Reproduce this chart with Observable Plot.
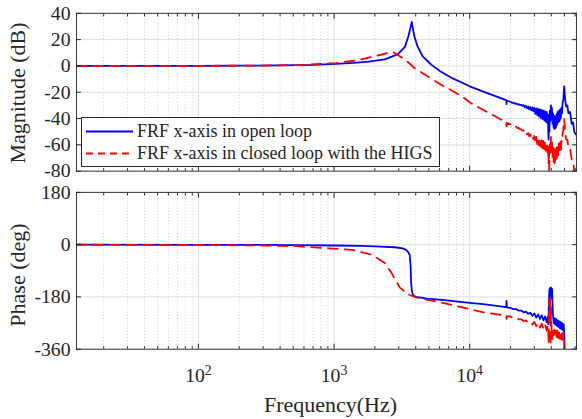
<!DOCTYPE html>
<html><head><meta charset="utf-8">
<script src="https://cdn.jsdelivr.net/npm/d3@7"></script>
<script src="https://cdn.jsdelivr.net/npm/@observablehq/plot@0.6"></script>
<style>
html,body{margin:0;padding:0;background:#fff;overflow:hidden;}
#wrap{position:relative;width:582px;height:419px;overflow:hidden;font-family:"Liberation Serif","Times New Roman",serif;color:#262626;}
#wrap svg{display:block;}
.lab{position:absolute;font-size:22px;line-height:22px;white-space:nowrap;}
.rot{transform:translate(-50%,-50%) rotate(-90deg);}
#legend{position:absolute;left:81px;top:117px;width:357px;height:48px;border:1px solid #262626;background:#fff;}
.lrow{position:absolute;left:0;height:21px;line-height:21px;font-size:18px;white-space:nowrap;}
.lrow svg{position:absolute;left:4px;top:0;}
.lrow span{position:absolute;left:55px;top:0;}
</style></head><body><div id="wrap"></div>
<script>
// ---------- data ----------
const seriesNames = ["FRF x-axis in open loop", "FRF x-axis in closed loop with the HIGS"];
const seriesColors = ["#0000ff", "#ff0000"];
const magTicks = [-80, -60, -40, -20, 0, 20, 40];
const phaseTicks = [-360, -180, 0, 180];
const decadeTicks = [100, 1000, 10000];
const minorTicks = [20,30,40,50,60,70,80,90,200,300,400,500,600,700,800,900,2000,3000,4000,5000,6000,7000,8000,9000,20000,30000,40000,50000,60000];

const openMagF = [12.6,50,100,200,400,700,1025,1400,1800,2370,2960,3330,3520,3670,3740,3850,3920,4140,4520,4800,5200,6100,7500,10000,12600,15500,18600,18700,18800,
  20000,20500,21000,21500,22000,22500,23000,23500,24000,24500,25000,25500,26000,26500,27000,27500,28000,28500,29000,29500,30000,30500,31000,31500,32000,32500,33000,33500,34000,34500,35000,35500,36000,36500,37000,37500,37800,38000,38200,38400,38700,39000,39300,39700,40000,40400,40800,41200,41600,42000,42400,42800,43200,43600,44000,44500,45000,45500,46000,46500,47000,47500,48000,48500,49000,49500,49800,50200,50800,51500,52500,53500,55000,56500,57900,59000,60500];
const openMagDb = [0,0,0.05,0.15,0.35,0.8,1.5,2.3,3.3,5,9,14.5,22,29.5,33.5,26,22,14.5,7,4.5,1,-4.3,-9.5,-15.5,-19.5,-23,-26,-29,-26.3,
  -27.3,-28.1,-27.9,-28.7,-28.5,-29.3,-29,-29.8,-29.5,-30.3,-29.8,-31.5,-30.3,-32.3,-30.8,-33,-31.2,-33.8,-31.6,-34.5,-31.8,-36.5,-32.2,-37.5,-32.6,-38.5,-33,-39.5,-33.5,-40.5,-34,-41.5,-34.5,-42.5,-35,-44,
  -37,-52,-56,-40,-50,-34,-42,-30,-40,-32,-44,-36,-47,-38,-48,-39,-47,-37,-45,-35,-43,-34,-42,-33,-40,-32,-36,-28,-26,-19,-15.5,-21,-27,-31,-30,-36,-35,-44,-43,-50,-52];

const closedMagF = [12.6,100,300,600,1025,1430,2040,2500,2710,3040,3500,3920,4500,5200,6120,7500,9000,10100,12600,15500,18600,18700,18800,
  20000,20500,21000,21500,22000,22500,23000,23500,24000,24500,25000,25500,26000,26500,27000,27500,28000,28500,29000,29500,30000,30500,31000,31500,32000,32500,33000,33500,34000,34500,35000,35500,36000,36500,37000,37500,37800,38100,38400,38600,38800,39100,39400,39700,40000,40400,40800,41200,41600,42000,42400,42800,43200,43600,44000,44500,45000,45500,46000,46500,47000,47500,48000,48500,49000,49500,49800,50200,50800,51500,52500,53500,55000,56500,57900,59000,60500];
const closedMagDb = [0,0.05,0.3,0.8,2.2,4,7.5,10,10.7,7.5,3,-1.7,-5.5,-9.5,-14.2,-19,-24,-28,-33.5,-38.5,-43,-46,-43.3,
  -44.3,-45.3,-45.2,-46.3,-46.2,-47.3,-47.2,-48.3,-48.2,-49.3,-49,-51,-50,-52.2,-51,-53.4,-52,-54.6,-52.8,-55.8,-53.2,-58,-54,-59.5,-54.6,-60.5,-55.2,-61.5,-56,-62.5,-56.5,-63.5,-57,-64.5,-58,-66,
  -60,-74,-62,-84,-66,-57,-66,-54,-65,-57,-70,-61,-73,-63,-74,-64,-72,-62,-70,-60,-68,-59,-66,-58,-65,-57,-58,-51,-49,-43,-40.5,-46,-52,-56,-56,-62,-62,-71,-72,-80,-83];

const openPhF = [12.6,100,300,525,1000,1600,2200,2800,3200,3400,3520,3610,3670,3700,3740,3800,3900,4020,4850,6500,10400,12600,18600,18700,18800,
  20000,21000,22000,23000,24000,25000,26000,27000,28000,29000,30000,31000,32000,33000,34000,35000,36000,37000,37600,38000,38400,38700,39000,39300,39700,40100,40500,40900,41300,41800,42300,42800,43400,44000,44600,45200,45800,46400,47000,47600,48200,48800,49300,49700,49900,50200];
const openPhDeg = [-0.2,-0.5,-1,-1.5,-3,-4.5,-6.5,-9,-13,-18,-26,-35,-75,-131,-155,-171,-177,-180,-186,-191,-201,-205,-215,-194,-216,
  -218,-222,-222,-227,-227,-233,-231,-238,-235,-245,-237,-251,-240,-256,-243,-261,-247,-267,
  -250,-274,-200,-158,-150,-178,-147,-185,-152,-215,-252,-270,-253,-276,-256,-280,-260,-284,-264,-288,-267,-292,-270,-295,-274,-296,-315,-420];

const closedPhF = [12.6,98,300,525,915,1360,1900,2370,2650,2730,3060,3510,4020,6450,10400,12600,18600,18700,18800,
  20000,21000,22000,23000,24000,25000,26000,27000,28000,29000,30000,31000,32000,33000,34000,35000,36000,37000,37600,38000,38300,38600,38900,39200,39500,39800,40200,40600,41000,41500,42000,42600,43200,43800,44400,45000,45600,46200,46800,47400,48000,48600,49200,49600,49900,50200];
const closedPhDeg = [-0.3,-1,-3,-5.5,-12.5,-18,-35,-63.5,-97,-108.7,-148,-171,-182,-201,-224,-233,-245,-256,-246,
  -248,-252,-252,-257,-257,-263,-261,-268,-265,-275,-266,-281,-269,-286,-272,-291,-276,-297,
  -280,-305,-342,-190,-235,-185,-348,-215,-295,-325,-298,-320,-293,-318,-295,-320,-296,-322,-298,-324,-300,-326,-302,-328,-304,-330,-335,-420];

// ---------- build ----------
const toRows = (F, V) => F.map((f, i) => ({f, v: V[i]}));
const magSeries = [toRows(openMagF, openMagDb), toRows(closedMagF, closedMagDb)];
const phSeries = [toRows(openPhF, openPhDeg), toRows(closedPhF, closedPhDeg)];
const xDomain = [12.6, 61400];
const font = "Liberation Serif, Times New Roman, serif";
const ink = "#262626";

function panel({height, marginTop, marginBottom, yDomain, yTicks, series, showX}) {
  const marks = [
    Plot.ruleX(minorTicks, {stroke: "#c4c4c4", strokeDasharray: "1,2.2", strokeWidth: 0.8}),
    Plot.ruleX(decadeTicks, {stroke: "#dcdcdc", strokeWidth: 0.9}),
    Plot.ruleY(yTicks, {stroke: "#dcdcdc", strokeWidth: 0.9}),
    Plot.line(series[0], {x: "f", y: "v", stroke: seriesColors[0], strokeWidth: 1.8, clip: true}),
    Plot.line(series[1], {x: "f", y: "v", stroke: seriesColors[1], strokeWidth: 1.8, strokeDasharray: "10,7", clip: true}),
    Plot.frame({stroke: ink, strokeWidth: 0.9}),
    Plot.axisY({ticks: yTicks, tickSize: -5, tickPadding: 11, fontSize: 20, fontFamily: font, fill: ink, stroke: ink,
      tickFormat: d => String(d), label: null}),
    Plot.axisY({anchor: "right", ticks: yTicks, tickSize: -5, stroke: ink, tickFormat: () => "", label: null}),
    Plot.axisX({anchor: "bottom", ticks: decadeTicks, tickSize: -5, tickPadding: showX ? 24 : 0, fontSize: 20, fontFamily: font,
      fill: ink, stroke: ink, tickFormat: showX ? (d => "10^" + Math.round(Math.log10(d))) : (() => ""), label: null}),
    Plot.axisX({anchor: "bottom", ticks: minorTicks, tickSize: -2.5, stroke: ink, tickFormat: () => "", label: null}),
    Plot.axisX({anchor: "top", ticks: decadeTicks, tickSize: -5, stroke: ink, tickFormat: () => "", label: null}),
    Plot.axisX({anchor: "top", ticks: minorTicks, tickSize: -2.5, stroke: ink, tickFormat: () => "", label: null})
  ];
  return Plot.plot({
    width: 590, height, marginLeft: 77, marginRight: 6, marginTop, marginBottom,
    x: {type: "log", domain: xDomain},
    y: {domain: yDomain},
    style: {fontFamily: font, color: ink, background: "white", overflow: "visible"},
    marks
  });
}

const wrap = document.getElementById("wrap");
const magPlot = panel({height: 185, marginTop: 13, marginBottom: 12, yDomain: [-80, 40], yTicks: magTicks, series: magSeries, showX: false});
const phPlot = panel({height: 234, marginTop: 10, marginBottom: 65, yDomain: [-360, 180], yTicks: phaseTicks, series: phSeries, showX: true});
wrap.append(magPlot, phPlot);

// serif on all svg text
wrap.querySelectorAll("svg").forEach(s => { s.setAttribute("font-family", font); s.style.fontFamily = font; });

// superscript exponents on the decade labels
const ns = "http://www.w3.org/2000/svg";
phPlot.querySelectorAll('g[aria-label="x-axis tick label"] text').forEach(t => {
  const s = t.textContent;
  if (!s.includes("^")) return;
  const [b, e] = s.split("^");
  t.textContent = "";
  const t1 = document.createElementNS(ns, "tspan"); t1.textContent = b;
  const t2 = document.createElementNS(ns, "tspan"); t2.textContent = e;
  t2.setAttribute("dy", "-0.5em"); t2.setAttribute("font-size", "14");
  t.append(t1, t2);
});

// axis titles
function addLabel(text, css, rot) {
  const d = document.createElement("div");
  d.className = "lab" + (rot ? " rot" : "");
  d.textContent = text;
  Object.assign(d.style, css);
  wrap.appendChild(d);
}
addLabel("Magnitude (dB)", {left: "18px", top: "93px"}, true);
addLabel("Phase (deg)", {left: "18px", top: "275px"}, true);
addLabel("Frequency(Hz)", {left: "330.5px", top: "393.5px", transform: "translateX(-50%)"}, false);

// legend
const lg = document.createElement("div");
lg.id = "legend";
seriesNames.forEach((name, i) => {
  const row = document.createElement("div");
  row.className = "lrow";
  row.style.top = (i === 0 ? 2.5 : 24.5) + "px";
  row.style.width = "355px";
  row.innerHTML = `<svg width="47" height="21"><line x1="0" x2="47" y1="10.5" y2="10.5" stroke="${seriesColors[i]}" stroke-width="2" ${i === 1 ? 'stroke-dasharray="7,5"' : ''}/></svg>`;
  const sp = document.createElement("span");
  sp.textContent = name;
  row.appendChild(sp);
  lg.appendChild(row);
});
wrap.appendChild(lg);
</script>
</body></html>
